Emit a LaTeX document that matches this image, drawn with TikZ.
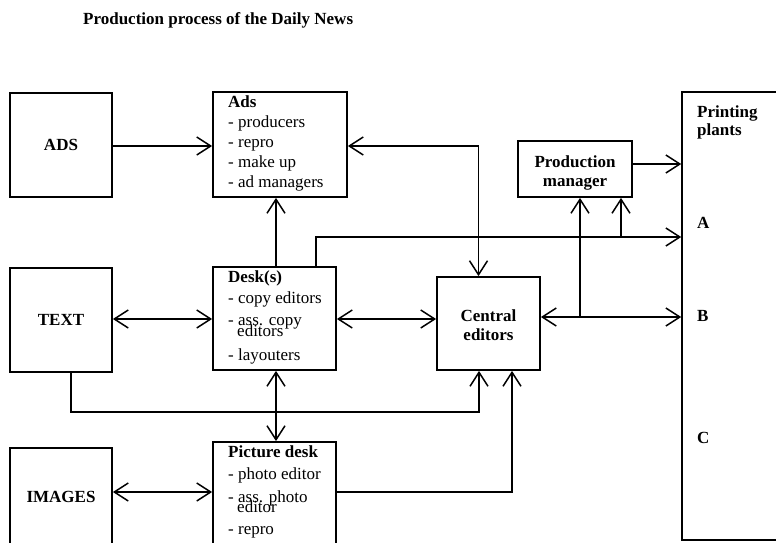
\documentclass[tikz,border=0pt]{standalone}
\usepackage{fontspec}
\setmainfont{Liberation Serif}
\usetikzlibrary{arrows.meta}
\begin{document}
\begin{tikzpicture}[x=1pt,y=-1pt,
  box/.style={draw, line width=1.8pt, inner sep=0pt},
  ln/.style={line width=1.5pt},
  >={Straight Barb[length=14pt,width=18pt,line width=1.5pt]},
  txt/.style={anchor=base west, inner sep=0pt, font=\fontsize{17}{20}\selectfont},
  btxt/.style={txt, font=\fontsize{17}{20}\selectfont\bfseries},
  ctxt/.style={inner sep=0pt, align=center, font=\fontsize{17}{19}\selectfont\bfseries}]
\useasboundingbox (0,0) rectangle (776,542);
\clip (0,0) rectangle (776,542);
% title
\node[btxt] (title) at (83,24) {Production process of the Daily News};
% boxes
\node[box, minimum width=102pt, minimum height=104pt] (ADS) at (61,145) {};
\node[ctxt] (ADSl) at (61,145) {ADS};
\node[box, minimum width=134pt, minimum height=105pt] (ads) at (280,144.5) {};
\node[box, minimum width=102pt, minimum height=104pt] (TEXT) at (61,320) {};
\node[ctxt] (TEXTl) at (61,320) {TEXT};
\node[box, minimum width=103pt, minimum height=93pt] (cen) at (488.5,323.5) {};
\node[ctxt] (cenl) at (488.5,325) {Central\\editors};
\node[box, minimum width=123pt, minimum height=103pt] (desk) at (274.5,318.5) {};
\node[box, minimum width=114pt, minimum height=56pt] (pm) at (575,169) {};
\node[ctxt] (pml) at (575,172.5) {Production\\manager};
\node[box, minimum width=123pt, minimum height=158pt] (pic) at (274.5,521) {};
\node[box, minimum width=102pt, minimum height=152pt] (IMG) at (61,524) {};
\node[ctxt] (IMGl) at (61,497) {IMAGES};
\node[draw, line width=1.5pt, inner sep=0pt, minimum width=118pt, minimum height=448pt] (pp) at (741,316) {};
% texts in boxes
\node[btxt] (a0) at (228,107) {Ads};
\node[txt] (a1) at (228,127) {- producers};
\node[txt] (a2) at (228,147) {- repro};
\node[txt] (a3) at (228,167) {- make up};
\node[txt] (a4) at (228,187) {- ad managers};
\node[btxt] (d0) at (228,282) {Desk(s)};
\node[txt] (d1) at (228,303) {- copy editors};
\node[txt] (d2) at (228,325) {- ass. copy};
\node[txt] (d3) at (237,336) {editors};
\node[txt] (d4) at (228,360) {- layouters};
\node[btxt] (p0) at (228,457) {Picture desk};
\node[txt] (p1) at (228,479) {- photo editor};
\node[txt] (p2) at (228,502) {- ass. photo};
\node[txt] (p3) at (237,512) {editor};
\node[txt] (p4) at (228,534) {- repro};
\node[btxt] (pp0) at (697,117) {Printing};
\node[btxt] (pp1) at (697,135) {plants};
\node[btxt] (ppA) at (697,228) {A};
\node[btxt] (ppB) at (697,321) {B};
\node[btxt] (ppC) at (697,443) {C};
% connectors
\draw[ln,->] (ADS.east |- 0,146) -- (ads.west |- 0,146);
\draw[ln,<->] (ads.east |- 0,146) -| ([xshift=-10pt]cen.north);
\draw[ln,->] ([xshift=1.5pt]desk.north) -- ([xshift=-4pt]ads.south);
\draw[ln,->] ([xshift=41.5pt]desk.north) |- (pp.west |- 0,237);
\coordinate (jA) at ([xshift=46pt]pm.south |- 0,237);
\draw[ln,->] (jA) -- ([xshift=46pt]pm.south);
\draw[ln,<->] (TEXT.east |- 0,319) -- (desk.west |- 0,319);
\draw[ln,<->] (desk.east |- 0,319) -- (cen.west |- 0,319);
\draw[ln,<->] (cen.east |- 0,317) -- (pp.west |- 0,317);
\coordinate (jB) at ([xshift=5pt]pm.south |- 0,317);
\draw[ln,->] (jB) -- ([xshift=5pt]pm.south);
\draw[ln,->] (pm.east |- 0,164) -- (pp.west |- 0,164);
\draw[ln,->] ([xshift=10pt]TEXT.south) -- ++(0,39) -| ([xshift=-9.5pt]cen.south);
\draw[ln,<->] ([xshift=1.5pt]desk.south) -- ([xshift=1.5pt]pic.north);
\draw[ln,<->] (IMG.east |- 0,492) -- (pic.west |- 0,492);
\draw[ln,->] (pic.east |- 0,492) -| ([xshift=23.5pt]cen.south);
\end{tikzpicture}
\end{document}
